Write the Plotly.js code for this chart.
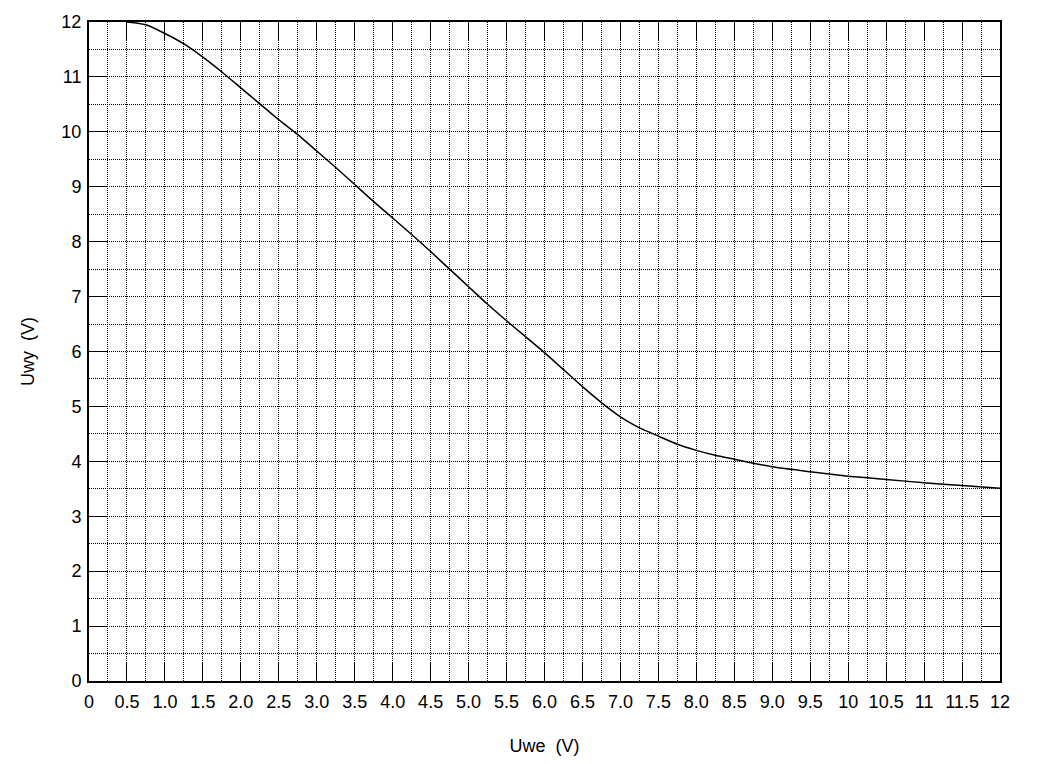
<!DOCTYPE html>
<html>
<head>
<meta charset="utf-8">
<script src="https://cdn.plot.ly/plotly-3.0.1.min.js"></script>
<style>
  body { margin: 0; background: #fff; }
  #chart { width: 1055px; height: 764px; }
</style>
</head>
<body>
<div id="chart"></div>
<script>
// values
const uwe = [0.5, 0.75, 1.0, 1.25, 1.5, 1.75, 2.0, 2.25, 2.5, 2.75, 3.0, 3.25, 3.5, 3.75,
             4.0, 4.25, 4.5, 4.75, 5.0, 5.25, 5.5, 5.75, 6.0, 6.25, 6.5, 6.75, 7.0, 7.25,
             7.5, 7.75, 8.0, 8.25, 8.5, 9.0, 9.5, 10, 10.5, 11, 11.5, 12];
const uwy = [12.0, 11.95, 11.79, 11.60, 11.36, 11.09, 10.80, 10.51, 10.22, 9.95, 9.65, 9.35, 9.04, 8.73,
             8.43, 8.13, 7.82, 7.50, 7.18, 6.86, 6.56, 6.27, 5.98, 5.67, 5.36, 5.07, 4.81, 4.61,
             4.46, 4.31, 4.20, 4.11, 4.04, 3.90, 3.81, 3.73, 3.67, 3.61, 3.56, 3.51];

const xTickVals = [0, 0.5, 1, 1.5, 2, 2.5, 3, 3.5, 4, 4.5, 5, 5.5, 6, 6.5, 7, 7.5,
                   8, 8.5, 9, 9.5, 10, 10.5, 11, 11.5, 12];
const xTickText = ['0', '0.5', '1.0', '1.5', '2.0', '2.5', '3.0', '3.5', '4.0', '4.5',
                   '5.0', '5.5', '6.0', '6.5', '7.0', '7.5', '8.0', '8.5', '9.0', '9.5',
                   '10', '10.5', '11', '11.5', '12'];

const font = {family: 'Arial, "Liberation Sans", sans-serif', size: 18, color: '#000'};
const dots = '1px,1px';

const trace = {
  x: uwe,
  y: uwy,
  type: 'scatter',
  mode: 'lines',
  line: {color: '#000', width: 1.5, shape: 'spline', smoothing: 0.5},
  hoverinfo: 'skip'
};

const axisCommon = {
  range: [0, 12],
  showline: true,
  linecolor: '#000',
  linewidth: 2,
  mirror: 'ticks',
  ticks: 'inside',
  ticklen: 19,
  tickwidth: 1,
  tickcolor: '#000',
  showgrid: true,
  gridcolor: '#000',
  gridwidth: 1,
  griddash: dots,
  zeroline: false,
  tickfont: font,
  fixedrange: true
};

const layout = {
  width: 1055,
  height: 764,
  margin: {l: 89, r: 55, t: 22, b: 83},
  paper_bgcolor: '#fff',
  plot_bgcolor: '#fff',
  showlegend: false,
  font: font,
  xaxis: Object.assign({}, axisCommon, {
    tickmode: 'array',
    tickvals: xTickVals,
    ticktext: xTickText,
    ticklabelstandoff: 3,
    minor: {tickmode: 'linear', tick0: 0, dtick: 0.25, showgrid: true,
            gridcolor: '#000', gridwidth: 1, griddash: dots, ticks: ''},
    title: {text: 'Uwe  (V)', font: font, standoff: 29}
  }),
  yaxis: Object.assign({}, axisCommon, {
    tickmode: 'linear',
    tick0: 0,
    dtick: 1,
    ticklabelstandoff: 2,
    minor: {tickmode: 'linear', tick0: 0, dtick: 0.5, showgrid: true,
            gridcolor: '#000', gridwidth: 1, griddash: dots, ticks: ''},
    title: {text: 'Uwy  (V)', font: font, standoff: 22}
  })
};

Plotly.newPlot('chart', [trace], layout, {displayModeBar: false, staticPlot: true});
</script>
</body>
</html>
